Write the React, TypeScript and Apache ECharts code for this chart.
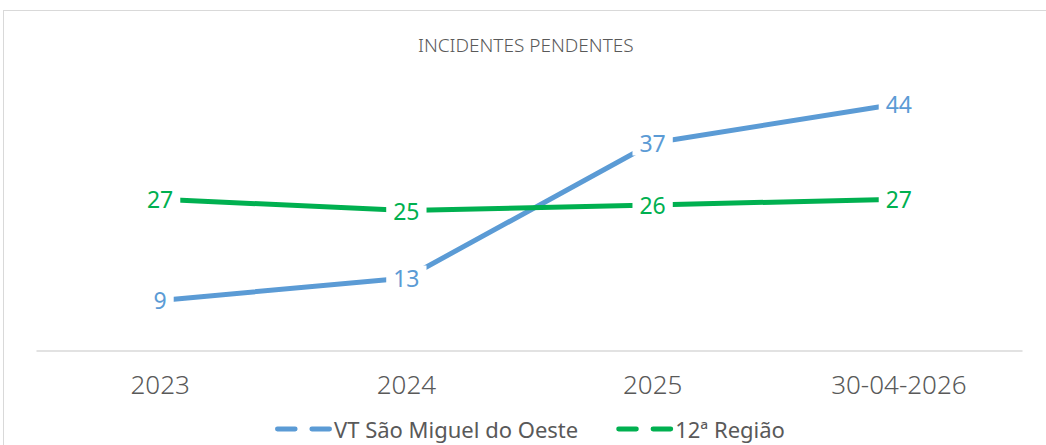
import React, { useEffect, useRef } from "react";
import * as echarts from "echarts";

const categories = ["2023", "2024", "2025", "30-04-2026"];
const vtSaoMiguel = [9, 13, 37, 44];
const regiao12 = [27, 25, 26, 27];
const seriesNames = ["VT São Miguel do Oeste", "12ª Região"];
const title = "INCIDENTES PENDENTES";

const BLUE = "#5B9BD5";
const GREEN = "#00B050";
const GREY = "#595959";
const FONT = "'Noto Sans', 'Open Sans', sans-serif";
const DASH_ICON = "path://M2,0 H20 A2,2 0 0 1 20,5 H2 A2,2 0 0 1 2,0 Z M37,0 H55 A2,2 0 0 1 55,5 H37 A2,2 0 0 1 37,0 Z";

export default function App() {
  const ref = useRef<HTMLDivElement>(null);
  useEffect(() => {
    if (!ref.current) return;
    const chart = echarts.init(ref.current, undefined, { renderer: "svg" });
    const mkSeries = (name: string, data: number[], color: string) => ({
      name,
      type: "line",
      data,
      symbol: "circle",
      symbolSize: 1,
      showSymbol: true,
      itemStyle: { color },
      lineStyle: { color, width: 5, cap: "round" },
      label: {
        show: true,
        position: "inside",
        color,
        fontFamily: FONT,
        fontSize: 23,
        backgroundColor: "#ffffff",
        padding: [1, 7],
      },
    });
    chart.setOption({
      animation: false,
      backgroundColor: "#ffffff",
      title: {
        text: title,
        left: 413,
        top: 30,
        textStyle: { color: GREY, fontFamily: FONT, fontSize: 19, fontWeight: 300 },
      },
      legend: {
        left: 270,
        top: 413,
        itemWidth: 57,
        itemHeight: 5,
        itemGap: 38,
        icon: DASH_ICON,
        textStyle: { color: GREY, fontFamily: FONT, fontSize: 22, padding: [0, 0, 0, -3] },
        data: [
          { name: seriesNames[0], itemStyle: { color: BLUE } },
          { name: seriesNames[1], itemStyle: { color: GREEN } },
        ],
      },
      grid: { left: 37, right: 24, top: 70, bottom: 94 },
      xAxis: {
        type: "category",
        data: categories,
        boundaryGap: true,
        axisLine: { lineStyle: { color: "#D9D9D9", width: 1.5 } },
        axisTick: { show: false },
        axisLabel: { color: GREY, fontFamily: FONT, fontSize: 26, margin: 20, fontWeight: 300 },
      },
      yAxis: {
        type: "value",
        min: 0,
        max: 50,
        show: false,
        splitLine: { show: false },
      },
      series: [
        mkSeries(seriesNames[0], vtSaoMiguel, BLUE),
        mkSeries(seriesNames[1], regiao12, GREEN),
      ],
    });
    return () => chart.dispose();
  }, []);
  return (
    <div style={{ position: "fixed", left: 0, top: 0, width: 1046, height: 445, background: "#fff", overflow: "hidden" }}>
      <div ref={ref} style={{ position: "absolute", left: 0, top: 0, width: 1046, height: 445 }} />
      <div
        style={{
          position: "absolute",
          left: 3,
          top: 10,
          width: 1100,
          height: 500,
          border: "1.5px solid #D9D9D9",
          pointerEvents: "none",
        }}
      />
    </div>
  );
}
